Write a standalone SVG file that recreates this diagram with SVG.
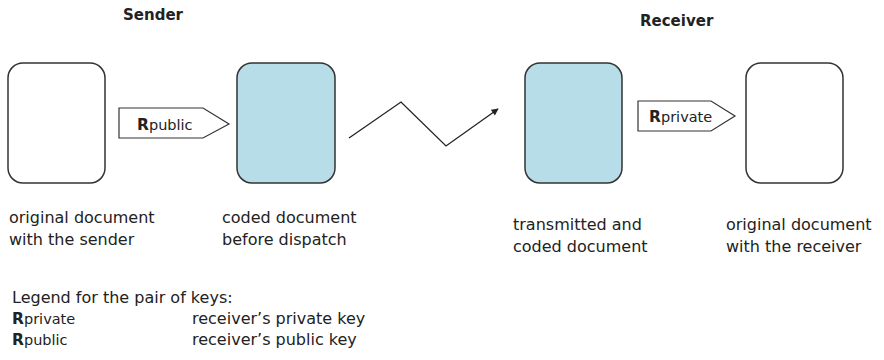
<svg xmlns="http://www.w3.org/2000/svg" width="884" height="360" viewBox="0 0 884 360">
<defs>
<style>
text{font-family:"DejaVu Sans",Verdana,sans-serif;fill:#222}
.title{font-size:15px;font-weight:bold}
.cap{font-size:16px}
.key{font-size:14.5px}
.b{font-weight:bold;font-size:15.5px}
.doc{stroke:#333;stroke-width:1.5}
.white{fill:#fff}
.blue{fill:#b7dde8}
.tag{fill:#fff;stroke:#333;stroke-width:1.2}
.link{fill:none;stroke:#222;stroke-width:1.3}
</style>
<marker id="arr" viewBox="0 0 10 10" refX="9" refY="5" markerWidth="8" markerHeight="7" markerUnits="userSpaceOnUse" orient="auto">
<path d="M0,0 L10,5 L0,10 z" fill="#222"/>
</marker>
</defs>
<rect width="884" height="360" fill="#fff"/>
<text class="title" x="123" y="20">Sender</text>
<text class="title" x="640" y="26">Receiver</text>
<g id="doc1">
<rect class="doc white" x="8" y="63" width="97" height="120" rx="15"/>
<text class="cap" x="9" y="223">original document</text>
<text class="cap" x="9" y="245">with the sender</text>
</g>
<g id="doc2">
<rect class="doc blue" x="237" y="63" width="98" height="120" rx="15"/>
<text class="cap" x="222" y="223">coded document</text>
<text class="cap" x="222" y="245">before dispatch</text>
</g>
<g id="doc3">
<rect class="doc blue" x="525" y="63" width="97" height="120" rx="15"/>
<text class="cap" x="513" y="230">transmitted and</text>
<text class="cap" x="513" y="252">coded document</text>
</g>
<g id="doc4">
<rect class="doc white" x="746" y="63" width="97" height="120" rx="15"/>
<text class="cap" x="726" y="230">original document</text>
<text class="cap" x="726" y="252">with the receiver</text>
</g>
<g id="key1">
<polygon class="tag" points="119,108 203,108 229,124 203,138 119,138"/>
<text class="key" x="137" y="130"><tspan class="b">R</tspan>public</text>
</g>
<g id="key2">
<polygon class="tag" points="638,101 711,101 735,116 711,131 638,131"/>
<text class="key" x="649" y="122"><tspan class="b">R</tspan>private</text>
</g>
<g id="connectors">
<polyline class="link" points="349,138 401,102 446,146 498,109" marker-end="url(#arr)"/>
</g>
<g id="legend">
<text class="cap" x="12" y="303">Legend for the pair of keys:</text>
<text class="key" x="12" y="324"><tspan class="b">R</tspan>private</text>
<text class="cap" x="192" y="324">receiver’s private key</text>
<text class="key" x="12" y="345"><tspan class="b">R</tspan>public</text>
<text class="cap" x="192" y="345">receiver’s public key</text>
</g>
</svg>
